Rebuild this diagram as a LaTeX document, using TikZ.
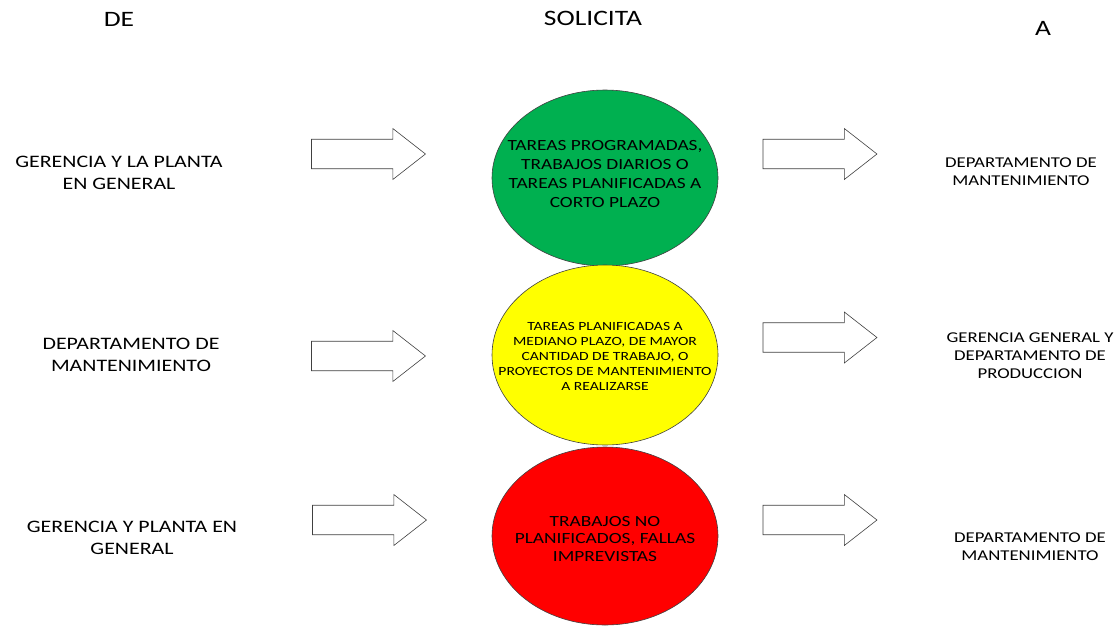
\documentclass[tikz,border=0pt]{standalone}
\usepackage{fontspec}
\setmainfont{Carlito}[FakeStretch=1.25]
\usetikzlibrary{shapes.geometric,shapes.arrows}
\definecolor{tgreen}{HTML}{00B050}
\definecolor{tyellow}{HTML}{FFFF00}
\definecolor{tred}{HTML}{FF0000}
\definecolor{edge}{HTML}{404040}
\begin{document}
\begin{tikzpicture}[x=1pt,y=-1pt,
  lamp/.style={ellipse,draw=edge,line width=0.6pt,minimum width=226pt,minimum height=176pt,inner sep=0pt},
  lamptext/.style={align=center,text=black,inner sep=0pt},
  bigarrow/.style={single arrow,draw=edge,fill=white,line width=0.6pt,
    text height=9.5pt,text depth=9.5pt,inner xsep=0pt,inner ysep=0pt,
    minimum width=51pt,minimum height=114pt,single arrow tip angle=76,anchor=center},
  side/.style={align=center,font=\fontsize{17.5}{22}\selectfont},
  dest/.style={align=center,font=\fontsize{15}{18}\selectfont},
  head/.style={font=\fontsize{22}{25}\selectfont}]
\useasboundingbox (0,0) rectangle (1119,630);
% column headings
\node[head] (hde) at (119,19) {DE};
\node[head] (hsol) at (593,18) {SOLICITA};
\node[head] (ha) at (1043,28) {A};
% traffic-light ellipses
\node[lamp,fill=tgreen] (g) at (605,178) {};
\node[lamp,fill=tyellow,minimum height=180pt] (y) at (605,355) {};
\node[lamp,fill=tred,minimum height=178pt] (r) at (605,536) {};
\node[lamptext,font=\fontsize{15.5}{18.7}\selectfont] (gt) at (605,174) {TAREAS PROGRAMADAS,\\TRABAJOS DIARIOS O\\TAREAS PLANIFICADAS A\\CORTO PLAZO};
\node[lamptext,font=\fontsize{12.5}{15}\selectfont] (yt) at (605,356) {TAREAS PLANIFICADAS A\\MEDIANO PLAZO, DE MAYOR\\CANTIDAD DE TRABAJO, O\\PROYECTOS DE MANTENIMIENTO\\A REALIZARSE};
\node[lamptext,font=\fontsize{15.5}{17.5}\selectfont] (rt) at (605,539) {TRABAJOS NO\\PLANIFICADOS, FALLAS\\IMPREVISTAS};
% senders
\node[side] (s1) at (119,173) {GERENCIA Y LA PLANTA\\EN GENERAL};
\node[side] (s2) at (131,355) {DEPARTAMENTO DE\\MANTENIMIENTO};
\node[side] (s3) at (132,538) {GERENCIA Y PLANTA EN\\GENERAL};
% receivers
\node[dest] (d1) at (1021,172) {DEPARTAMENTO DE\\MANTENIMIENTO};
\node[dest] (d2) at (1030,356) {GERENCIA GENERAL Y\\DEPARTAMENTO DE\\PRODUCCION};
\node[dest] (d3) at (1030,547) {DEPARTAMENTO DE\\MANTENIMIENTO};
% block arrows
\node[bigarrow] (la1) at (359,154) {};
\node[bigarrow] (la2) at (359,356) {};
\node[bigarrow] (la3) at (360,520) {};
\node[bigarrow] (ra1) at (810.5,154) {};
\node[bigarrow] (ra2) at (810.5,337.5) {};
\node[bigarrow] (ra3) at (810.5,520) {};
\end{tikzpicture}
\end{document}
